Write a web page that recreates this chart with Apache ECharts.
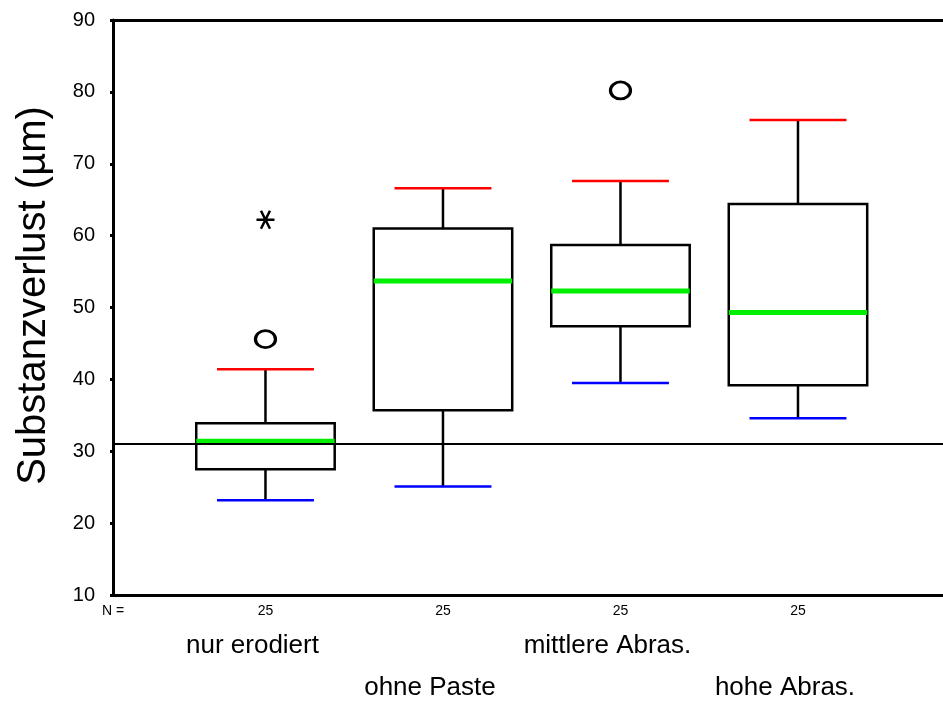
<!DOCTYPE html>
<html>
<head>
<meta charset="utf-8">
<script src="https://cdn.jsdelivr.net/npm/echarts@6/dist/echarts.min.js"></script>
<style>
  html, body { margin: 0; padding: 0; background: #fff; }
  #chart { width: 943px; height: 708px; }
</style>
</head>
<body>
<div id="chart"></div>
<script>
// Gruppen und Kennwerte
var categories = ['nur erodiert', 'ohne Paste', 'mittlere Abras.', 'hohe Abras.'];
var positions = [1, 2, 3, 4];
var nCounts = [25, 25, 25, 25];
var lowWhisker = [23.2, 25.1, 39.5, 34.6];
var q1 = [27.5, 35.7, 47.4, 39.2];
var median = [31.4, 53.7, 52.3, 49.3];
var q3 = [33.9, 61.0, 58.7, 64.4];
var highWhisker = [41.4, 66.6, 67.6, 76.1];
// Ausreisser (Kreis) und Extremwerte (Stern)
var outliers = [[1, 45.6], [3, 80.2]];
var extremes = [[1, 62.2]];
var refLine = 31.1;
var yTicks = { min: 10, max: 90, step: 10 };

var chart = echarts.init(document.getElementById('chart'));

var boxData = positions.map(function (p, i) {
  return [p, lowWhisker[i], q1[i], median[i], q3[i], highWhisker[i]];
});

function renderBox(params, api) {
  var x = api.value(0);
  var unit = api.size([1, 0])[0];
  var half = unit * 0.39;     // Boxbreite
  var cap = unit * 0.273;     // Whisker-Enden
  var pLow = api.coord([x, api.value(1)]);
  var pQ1 = api.coord([x, api.value(2)]);
  var pMed = api.coord([x, api.value(3)]);
  var pQ3 = api.coord([x, api.value(4)]);
  var pHigh = api.coord([x, api.value(5)]);
  var cx = pMed[0];
  var black = { stroke: '#000', lineWidth: 2.5, fill: null };
  return {
    type: 'group',
    children: [
      { type: 'line', shape: { x1: cx, y1: pHigh[1], x2: cx, y2: pQ3[1] }, style: black },
      { type: 'line', shape: { x1: cx, y1: pQ1[1], x2: cx, y2: pLow[1] }, style: black },
      { type: 'rect', shape: { x: cx - half, y: pQ3[1], width: half * 2, height: pQ1[1] - pQ3[1] }, style: black },
      { type: 'line', shape: { x1: cx - half, y1: pMed[1], x2: cx + half, y2: pMed[1] }, style: { stroke: '#00ee00', lineWidth: 5 } },
      { type: 'line', shape: { x1: cx - cap, y1: pHigh[1], x2: cx + cap, y2: pHigh[1] }, style: { stroke: '#ff0000', lineWidth: 2.5 } },
      { type: 'line', shape: { x1: cx - cap, y1: pLow[1], x2: cx + cap, y2: pLow[1] }, style: { stroke: '#0000ff', lineWidth: 2.5 } }
    ]
  };
}

var xMin = 0.141, xMax = 4.817;

var option = {
  animation: false,
  textStyle: { fontFamily: 'Liberation Sans, Arial, sans-serif', color: '#000' },
  grid: { left: 113, right: 0, top: 20, bottom: 113 },
  xAxis: [
    {
      type: 'value', min: xMin, max: xMax, position: 'bottom',
      axisLine: { show: true, lineStyle: { color: '#000', width: 3 } },
      splitLine: { show: false },
      axisTick: { show: true, length: 2, customValues: positions, lineStyle: { color: '#000', width: 4 } },
      axisLabel: {
        customValues: [xMin].concat(positions),
        fontSize: 14, color: '#000', margin: 9,
        formatter: function (v) {
          if (v < 0.5) return 'N =';
          return String(nCounts[Math.round(v) - 1]);
        }
      }
    },
    {
      type: 'value', min: xMin, max: xMax, position: 'bottom',
      axisLine: { show: false }, axisTick: { show: false }, splitLine: { show: false },
      axisLabel: {
        customValues: positions, margin: 38,
        formatter: function (v) {
          var i = Math.round(v) - 1;
          return (i % 2 === 0 ? '{a|' : '{b|') + categories[i] + '}';
        },
        rich: {
          a: { fontSize: 26, color: '#000', padding: [0, 26, 0, 0] },
          b: { fontSize: 26, color: '#000', padding: [42, 26, 0, 0] }
        }
      }
    },
    {
      type: 'value', min: xMin, max: xMax, position: 'top',
      axisLine: { show: true, lineStyle: { color: '#000', width: 3 } },
      axisTick: { show: false }, axisLabel: { show: false }, splitLine: { show: false }
    }
  ],
  yAxis: {
    type: 'value', min: yTicks.min, max: yTicks.max, interval: yTicks.step,
    name: 'Substanzverlust (µm)', nameLocation: 'middle', nameGap: 59,
    nameTextStyle: { fontSize: 40, color: '#000', padding: [0, 0, 0, 24] },
    axisLine: { show: true, lineStyle: { color: '#000', width: 3 } },
    axisTick: { show: true, length: 3, lineStyle: { color: '#000', width: 3 } },
    axisLabel: { fontSize: 20, color: '#000', margin: 18 },
    splitLine: { show: false }
  },
  series: [
    {
      type: 'custom',
      renderItem: renderBox,
      data: boxData,
      encode: { x: 0, y: [1, 2, 3, 4, 5] },
      clip: false,
      markLine: {
        silent: true, symbol: 'none', label: { show: false },
        lineStyle: { color: '#000', width: 2, type: 'solid' },
        data: [{ yAxis: refLine }]
      }
    },
    {
      type: 'scatter',
      data: outliers,
      symbol: 'circle', symbolSize: [20, 17],
      itemStyle: { color: '#fff', borderColor: '#000', borderWidth: 3, opacity: 1 }
    },
    {
      type: 'scatter',
      data: extremes,
      symbol: 'path://M-1,0L1,0M-0.5,-0.87L0.5,0.87M-0.5,0.87L0.5,-0.87',
      symbolSize: 18,
      itemStyle: { color: 'none', borderColor: '#000', borderWidth: 2.5, opacity: 1 }
    }
  ]
};

chart.setOption(option);
</script>
</body>
</html>
